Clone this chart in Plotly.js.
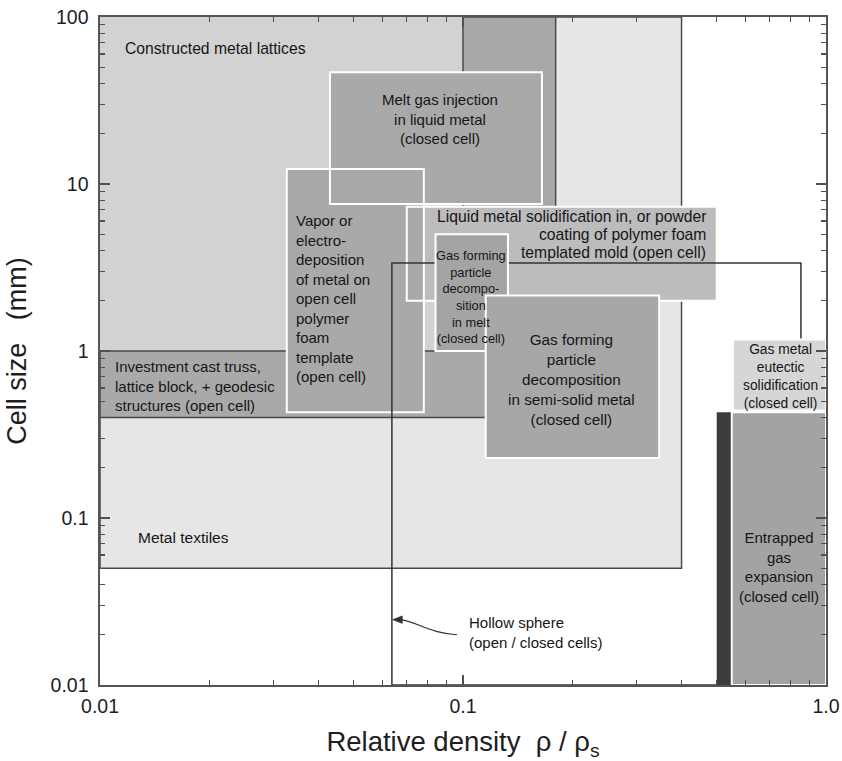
<!DOCTYPE html>
<html>
<head>
<meta charset="utf-8">
<script src="https://cdn.plot.ly/plotly-3.0.1.min.js"></script>
<style>html,body{margin:0;padding:0;background:#fff;}#chart{width:842px;height:761px;}</style>
</head>
<body>
<div id="chart"></div>
<script>
// ---- data ----
// processing regions: relative density range and cell size range (mm)
const regionNames = [
  'Metal textiles',                          // 0
  'Constructed metal lattices',              // 1
  'Investment cast truss',                   // 2
  'Melt gas injection (full range)',         // 3
  'Liquid metal solidification',             // 4
  'Melt gas injection',                      // 5
  'Vapor or electro-deposition',             // 6
  'Hollow sphere',                           // 7
  'Gas forming particle decomposition in melt', // 8
  'Gas forming particle decomposition in semi-solid', // 9
  'Gas metal eutectic solidification',       // 10
  'Entrapped gas (dense)',                   // 11
  'Entrapped gas expansion'                  // 12
];
const densityLow  = [0.01, 0.01, 0.01, 0.10, 0.070, 0.043, 0.0327, 0.0637, 0.084, 0.1155, 0.554, 0.50, 0.55];
const densityHigh = [0.40, 0.15, 0.20, 0.18, 0.50,  0.165, 0.078,  0.853,  0.133, 0.347,  1.0,   0.55, 1.0];
const cellLow     = [0.05, 1.0,  0.40, 2.5,  2.0,   7.6,   0.43,   0.01,   1.0,   0.229,  0.44,  0.01, 0.01];
const cellHigh    = [100,  100,  1.0,  100,  7.3,   46.7,  12.3,   3.37,   5.0,   2.15,   1.17,  0.43, 0.43];

// region label texts
const labelTexts = [
  'Constructed metal lattices',
  'Metal textiles',
  'Investment cast truss,<br>lattice block, + geodesic<br>structures (open cell)',
  'Melt gas injection<br>in liquid metal<br>(closed cell)',
  'Vapor or<br>electro-<br>deposition<br>of metal on<br>open cell<br>polymer<br>foam<br>template<br>(open cell)',
  'Liquid metal solidification in, or powder',
  'coating of polymer foam',
  'templated mold (open cell)',
  'Gas forming<br>particle<br>decompo-<br>sition<br>in melt<br>(closed cell)',
  'Gas forming<br>particle<br>decomposition<br>in semi-solid metal<br>(closed cell)',
  'Hollow sphere<br>(open / closed cells)',
  'Gas metal<br>eutectic<br>solidification<br>(closed cell)',
  'Entrapped<br>gas<br>expansion<br>(closed cell)'
];
const labelDensity = [0.01157, 0.01257, 0.01086, 0.0864, 0.0342, 0.473, 0.473, 0.473, 0.1055, 0.1984, 0.1024, 0.747, 0.742];
const labelCell    = [64.4,    0.0762,  0.615,   24.5,   2.06,   6.35,  4.96,  3.90,  2.10,   0.672,  0.0206, 0.704, 0.0508];

// hollow sphere pointer (density, cell size)
const pointerDensity = [0.0670, 0.0738, 0.0811, 0.0963];
const pointerCell    = [0.0246, 0.0243, 0.0203, 0.0200];
const pointerHeadDensity = [0.0641, 0.0680, 0.0680];
const pointerHeadCell    = [0.0246, 0.0259, 0.0234];

// axes ticks
const xTickVals = [0.01, 0.1, 1];
const xTickText = ['0.01', '0.1', '1.0'];
const yTickVals = [0.01, 0.1, 1, 10, 100];
const yTickText = ['0.01', '0.1', '1', '10', '100'];
const minorDigits = [2, 3, 4, 5, 6, 7, 8, 9];

// ---- styles ----
const FONT = 'Liberation Sans, Arial, Helvetica, sans-serif';
const fills = ['#e6e6e6', '#d2d2d2', '#a9a9a9', '#a8a8a8', '#bcbcbc', '#a9a9a9', '#a9a9a9', null,
               '#a4a4a4', '#a7a7a7', '#d6d6d6', '#3c3c3c', '#a3a3a3'];
const DARK = '#4a4a4a';
const TICK = '#505050';

function minorVals(majors) {
  const out = [];
  for (let i = 0; i < majors.length - 1; i++) {
    minorDigits.forEach(k => out.push(k * majors[i]));
  }
  return out;
}

function rect(i, opts) {
  return Object.assign({
    type: 'rect', xref: 'x', yref: 'y', layer: 'below',
    x0: densityLow[i], x1: densityHigh[i], y0: cellLow[i], y1: cellHigh[i],
    fillcolor: fills[i] || 'rgba(0,0,0,0)',
    line: {width: 0}
  }, opts || {});
}
const white = {color: '#ffffff', width: 2};
const dark = {color: DARK, width: 1.5};
const noFill = 'rgba(0,0,0,0)';

const shapes = [
  rect(0, {line: dark}),
  rect(1),
  rect(2, {line: dark}),
  rect(3, {line: dark}),
  rect(4),
  rect(5),
  rect(6),
  rect(5, {fillcolor: noFill, line: white}),
  rect(6, {fillcolor: noFill, line: white}),
  rect(4, {fillcolor: noFill, line: white}),
  rect(7, {fillcolor: noFill, line: {color: '#333333', width: 1.5}}),
  rect(8, {line: white}),
  rect(9, {line: white}),
  rect(10, {line: white}),
  rect(11),
  rect(12, {line: white}),
  {
    type: 'path', xref: 'x', yref: 'y', layer: 'below',
    path: 'M' + pointerDensity[0] + ',' + pointerCell[0] +
          ' C' + pointerDensity[1] + ',' + pointerCell[1] + ' ' +
          pointerDensity[2] + ',' + pointerCell[2] + ' ' +
          pointerDensity[3] + ',' + pointerCell[3],
    line: {color: '#333333', width: 1.2}
  },
  {
    type: 'path', xref: 'x', yref: 'y', layer: 'below',
    path: 'M' + pointerHeadDensity[0] + ',' + pointerHeadCell[0] +
          ' L' + pointerHeadDensity[1] + ',' + pointerHeadCell[1] +
          ' L' + pointerHeadDensity[2] + ',' + pointerHeadCell[2] + ' Z',
    fillcolor: '#333333', line: {color: '#333333', width: 0.8}
  }
];

// label styling
const labelAnchor = ['left', 'left', 'left', 'center', 'left', 'right', 'right', 'right', 'center', 'center', 'left', 'center', 'center'];
const labelSize   = [15.7, 15.5, 15, 15, 15, 15.7, 15.7, 15.7, 12.8, 15.3, 15, 13.8, 15];

const annotations = labelTexts.map((t, i) => ({
  xref: 'x', yref: 'y',
  x: Math.log10(labelDensity[i]), y: Math.log10(labelCell[i]),
  text: t, showarrow: false,
  xanchor: labelAnchor[i], yanchor: 'middle', align: labelAnchor[i],
  font: {family: FONT, size: labelSize[i], color: '#161616'}
}));

const axisCommon = {
  type: 'log', showgrid: false, zeroline: false,
  showline: true, linecolor: '#555555', linewidth: 1.6, mirror: 'ticks',
  ticks: 'inside', ticklen: 10, tickwidth: 1.4, tickcolor: TICK,
  tickmode: 'array',
  tickfont: {family: FONT, size: 19.5, color: '#1e1e1e'},
  fixedrange: true
};
// overlay axes that only carry the minor ticks on each side
function minorAxis(base, side, anchor, range, vals) {
  return {
    type: 'log', overlaying: base, side: side, anchor: anchor, range: range,
    showgrid: false, zeroline: false, showline: false,
    ticks: 'inside', ticklen: 5, tickwidth: 1.2, tickcolor: TICK,
    tickmode: 'array', tickvals: vals, showticklabels: false, fixedrange: true
  };
}
const xMinor = minorVals(xTickVals);
const yMinor = minorVals(yTickVals);

const layout = {
  width: 842, height: 761,
  margin: {l: 100, r: 16, t: 17, b: 76, pad: 0},
  paper_bgcolor: '#ffffff', plot_bgcolor: '#ffffff',
  showlegend: false,
  xaxis: Object.assign({}, axisCommon, {
    range: [-2, 0],
    tickvals: xTickVals, ticktext: xTickText,
    ticklabelstandoff: 3,
    title: {text: 'Relative density\u00a0\u00a0ρ / ρ<sub>s</sub>', font: {family: FONT, size: 27.5, color: '#1e1e1e'}, standoff: 16}
  }),
  yaxis: Object.assign({}, axisCommon, {
    range: [-2, 2],
    tickvals: yTickVals, ticktext: yTickText,
    ticklabelstandoff: 6,
    title: {text: 'Cell size\u00a0\u00a0\u00a0(mm)', font: {family: FONT, size: 27, color: '#1e1e1e'}, standoff: 16}
  }),
  xaxis2: minorAxis('x', 'bottom', 'y', [-2, 0], xMinor),
  yaxis2: minorAxis('y', 'left', 'x', [-2, 2], yMinor),
  xaxis3: minorAxis('x', 'top', 'y', [-2, 0], xMinor),
  yaxis3: minorAxis('y', 'right', 'x', [-2, 2], yMinor),
  shapes: shapes,
  annotations: annotations
};

const frameX = [densityLow[0], densityHigh[10]];
const frameY = [cellLow[7], cellHigh[0]];
const hidden = {type: 'scatter', mode: 'markers', marker: {opacity: 0, size: 1}, hoverinfo: 'skip', showlegend: false};
const traces = [
  Object.assign({x: frameX, y: frameY}, hidden),
  Object.assign({x: frameX, y: frameY, xaxis: 'x2', yaxis: 'y2'}, hidden),
  Object.assign({x: frameX, y: frameY, xaxis: 'x3', yaxis: 'y3'}, hidden)
];

Plotly.newPlot('chart', traces, layout, {displayModeBar: false, staticPlot: true});
</script>
</body>
</html>
